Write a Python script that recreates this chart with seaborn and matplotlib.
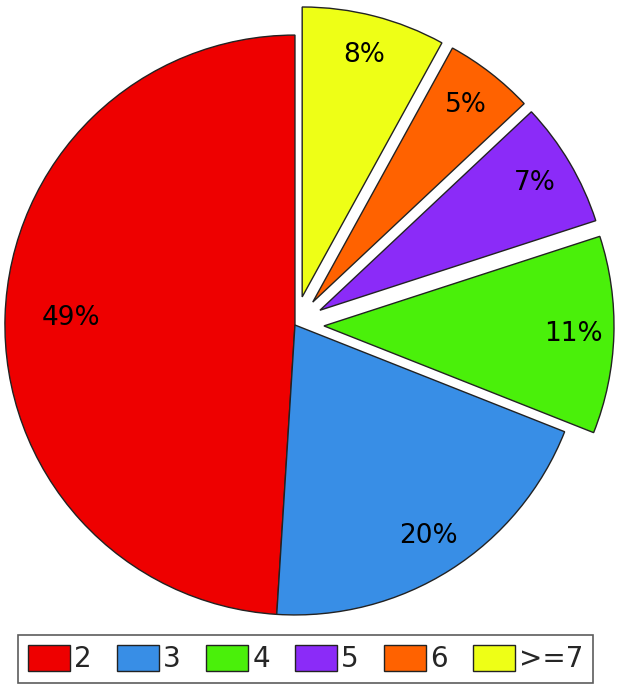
import matplotlib
matplotlib.use("Agg")
import matplotlib.pyplot as plt
import seaborn as sns

# data
categories = ["2", "3", "4", "5", "6", ">=7"]
shares = [49, 20, 11, 7, 5, 8]
exploded = [0, 0, 0.1, 0.1, 0.1, 0.1]
hex_colors = ["#ee0000", "#388ee6", "#4af00a", "#8b2bf8", "#ff6200", "#eeff16"]

sns.set_theme(style="white")
plt.rcParams['font.family'] = ['DejaVu Sans']
colors = sns.color_palette(hex_colors)

fig = plt.figure(figsize=(6.23, 6.88), dpi=100)
ax = fig.add_axes([0, 0, 1, 1])

wedges, texts, autotexts = ax.pie(
    shares, colors=colors, explode=exploded, startangle=90,
    autopct="%d%%", pctdistance=0.86,
    wedgeprops=dict(edgecolor="#222222", linewidth=1.0),
    textprops=dict(fontsize=19, color="black"))

# the big wedge's label sits a bit closer to the middle
x, y = autotexts[0].get_position()
autotexts[0].set_position((x * 0.9, y * 0.9))

ax.set_xlim(-1.017, 1.131)
ax.set_ylim(-1.252, 1.121)
ax.set_aspect("auto")

leg = fig.legend(wedges, categories, loc="lower center", ncol=6,
                 bbox_to_anchor=(0.491, 0.007), fontsize=20,
                 frameon=True, fancybox=False, edgecolor="#333333",
                 handlelength=1.5, handleheight=1.08, handletextpad=0.15,
                 columnspacing=0.92, borderpad=0.35, borderaxespad=0)
leg.get_frame().set_linewidth(1.2)

fig.savefig("out.png", dpi=100)
